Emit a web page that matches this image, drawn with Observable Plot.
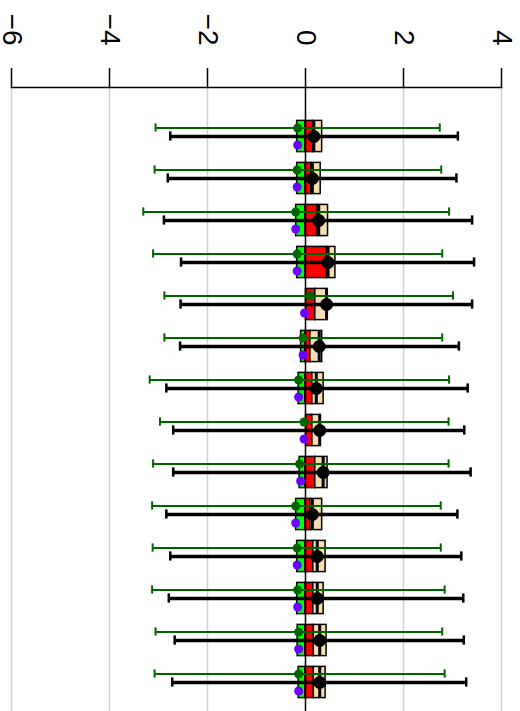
<!DOCTYPE html>
<html><head><meta charset="utf-8">
<script src="https://cdn.jsdelivr.net/npm/d3@7"></script>
<script src="https://cdn.jsdelivr.net/npm/@observablehq/plot@0.6"></script>
<style>body{margin:0;background:#fff;color:#000}</style>
</head><body><div id="chart"></div>
<script>
const rows      = ["1","2","3","4","5","6","7","8","9","10","11","12","13","14"];
const greenLo   = [-3.06,-3.08,-3.31,-3.11,-2.88,-2.88,-3.18,-2.97,-3.11,-3.13,-3.12,-3.13,-3.06,-3.08];
const greenHi   = [2.74,2.77,2.93,2.79,3.01,2.79,2.93,2.92,2.92,2.76,2.76,2.84,2.79,2.84];
const blackLo   = [-2.76,-2.81,-2.89,-2.54,-2.55,-2.56,-2.84,-2.70,-2.70,-2.84,-2.76,-2.79,-2.67,-2.72];
const blackHi   = [3.11,3.08,3.40,3.44,3.40,3.13,3.31,3.24,3.37,3.10,3.18,3.22,3.23,3.28];
const boxLeft   = [-0.17,-0.17,-0.19,-0.17,0.01,-0.09,-0.14,0.01,-0.12,-0.19,-0.17,-0.17,-0.16,-0.14];
const redStart  = [0,0,0,0,0.01,0,0,0.01,0,0,0,0,0,0];
const redEnd    = [0.16,0.12,0.25,0.44,0.20,0.10,0.14,0.14,0.20,0.10,0.16,0.16,0.17,0.17];
const boxRight  = [0.34,0.31,0.46,0.61,0.45,0.34,0.37,0.31,0.45,0.34,0.41,0.37,0.43,0.41];
const greenDot  = [-0.16,-0.17,-0.20,-0.17,0.09,-0.05,-0.14,-0.03,-0.12,-0.20,-0.17,-0.16,-0.14,-0.14];
const purpleDot = [-0.16,-0.17,-0.20,-0.17,-0.02,-0.05,-0.14,-0.03,-0.10,-0.20,-0.17,-0.16,-0.14,-0.14];
const blackDot  = [0.17,0.14,0.27,0.46,0.43,0.28,0.22,0.29,0.36,0.14,0.24,0.24,0.29,0.29];
const ticks     = [-6,-4,-2,0,2,4];

const data = rows.map((row, i) => ({
  row, gLo: greenLo[i], gHi: greenHi[i], bLo: blackLo[i], bHi: blackHi[i],
  boxL: boxLeft[i], rS: redStart[i], rE: redEnd[i], boxR: boxRight[i],
  gDot: greenDot[i], pDot: purpleDot[i], bDot: blackDot[i]
}));

const half = 598.7 / 14 / 2;
const boxInset = {insetTop: 5.4, insetBottom: 5.4};
const GREEN = "#006400";

const chart = Plot.plot({
  width: 520, height: 711,
  marginTop: 87, marginBottom: 0, marginLeft: 11, marginRight: 19,
  x: {domain: [-6, 4]},
  y: {domain: rows, insetTop: 23, insetBottom: 2.3, padding: 0, axis: null},
  style: {fontFamily: "'Liberation Sans', Arial, sans-serif", background: "white", color: "black"},
  marks: [
    Plot.gridX(ticks.filter(d => d !== 0), {stroke: "#d3d3d3", strokeOpacity: 1, strokeWidth: 1.5}),
    Plot.barX(data, {y: "row", x1: "boxL", x2: "rS", fill: "#00ff00", stroke: "black", strokeWidth: 1.5, ...boxInset}),
    Plot.barX(data, {y: "row", x1: "rS", x2: "rE", fill: "red", stroke: "black", strokeWidth: 1.5, ...boxInset}),
    Plot.barX(data, {y: "row", x1: "rE", x2: "boxR", fill: "wheat", stroke: "black", strokeWidth: 1.5, ...boxInset}),
    Plot.ruleX([0], {stroke: "black", strokeWidth: 1.5}),
    Plot.tickX(data, {y: "row", x: "bDot", stroke: "black", strokeWidth: 3, ...boxInset}),
    Plot.ruleY(data, {y: "row", x1: "gLo", x2: "gHi", dy: -8.5, stroke: GREEN, strokeWidth: 2}),
    Plot.tickX(data, {y: "row", x: "gLo", stroke: GREEN, strokeWidth: 2, insetTop: half - 13, insetBottom: half + 4}),
    Plot.tickX(data, {y: "row", x: "gHi", stroke: GREEN, strokeWidth: 2, insetTop: half - 13, insetBottom: half + 4}),
    Plot.ruleY(data, {y: "row", x1: "bLo", x2: "bHi", stroke: "black", strokeWidth: 3.5}),
    Plot.tickX(data, {y: "row", x: "bLo", stroke: "black", strokeWidth: 2.5, insetTop: half - 5, insetBottom: half - 5}),
    Plot.tickX(data, {y: "row", x: "bHi", stroke: "black", strokeWidth: 2.5, insetTop: half - 5, insetBottom: half - 5}),
    Plot.dot(data, {y: "row", x: "gDot", dy: -8.5, r: 4.5, fill: GREEN}),
    Plot.dot(data, {y: "row", x: "pDot", dy: 8.5, r: 4.5, fill: "#6a00ff"}),
    Plot.dot(data, {y: "row", x: "bDot", r: 6.5, fill: "black"}),
    Plot.frame({anchor: "top", stroke: "black", strokeWidth: 1.5}),
    Plot.axisX(ticks, {anchor: "top", tickSize: 20, tickPadding: 22, tickRotate: 90,
      fontSize: 28, label: null, stroke: "black", strokeWidth: 1.5,
      textAnchor: "end", lineAnchor: "middle", fill: "black"})
  ]
});
document.getElementById("chart").appendChild(chart);
</script>
</body></html>
